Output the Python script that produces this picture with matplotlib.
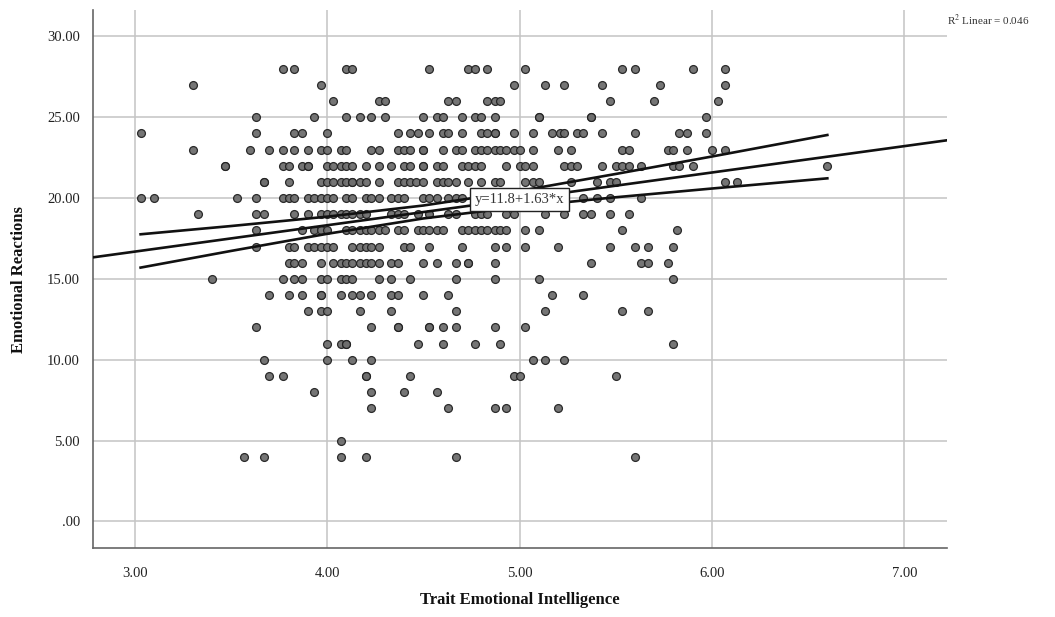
#!/usr/bin/env python3
"""Scatter of emotional reactions against trait emotional intelligence."""
import matplotlib
matplotlib.use('Agg')
import matplotlib.pyplot as plt

plt.rcParams['font.family'] = ['Liberation Serif', 'DejaVu Serif']

# Trait EI scores, one list per emotional reactions score
row_28 = [3.77, 3.83, 4.10, 4.13, 4.53, 4.73, 4.77, 4.83, 5.03, 5.53, 5.60, 5.90, 6.07]
row_27 = [3.30, 3.97, 4.97, 5.13, 5.23, 5.43, 5.73, 6.07]
row_26 = [4.03, 4.27, 4.30, 4.63, 4.67, 4.83, 4.87, 4.90, 5.47, 5.70, 6.03]
row_25 = [3.63, 3.93, 4.10, 4.17, 4.23, 4.30, 4.50, 4.57, 4.60, 4.70, 4.77, 4.80, 4.87,
          5.10, 5.10, 5.37, 5.37, 5.97]
row_24 = [3.03, 3.63, 3.83, 3.87, 4.00, 4.37, 4.43, 4.47, 4.53, 4.60, 4.63, 4.70, 4.80,
          4.83, 4.87, 4.87, 4.97, 5.07, 5.17, 5.21, 5.23, 5.30, 5.33, 5.43, 5.60, 5.83,
          5.87, 5.97]
row_23 = [3.30, 3.60, 3.70, 3.77, 3.83, 3.90, 3.97, 4.00, 4.07, 4.10, 4.23, 4.27, 4.37,
          4.40, 4.43, 4.50, 4.50, 4.60, 4.67, 4.70, 4.77, 4.80, 4.83, 4.87, 4.90, 4.93,
          4.97, 5.00, 5.07, 5.20, 5.27, 5.53, 5.57, 5.77, 5.80, 5.87, 6.00, 6.07]
row_22 = [3.47, 3.47, 3.77, 3.80, 3.87, 3.90, 3.90, 4.00, 4.03, 4.07, 4.10, 4.13, 4.20,
          4.27, 4.33, 4.40, 4.43, 4.50, 4.50, 4.57, 4.60, 4.70, 4.73, 4.77, 4.80, 4.93,
          5.00, 5.03, 5.07, 5.23, 5.27, 5.30, 5.43, 5.50, 5.53, 5.57, 5.63, 5.80, 5.83,
          5.90, 6.60]
row_21 = [3.67, 3.67, 3.80, 3.97, 4.00, 4.03, 4.07, 4.10, 4.13, 4.13, 4.17, 4.20, 4.27,
          4.37, 4.40, 4.43, 4.46, 4.50, 4.57, 4.60, 4.63, 4.67, 4.73, 4.80, 4.87, 4.90,
          5.03, 5.07, 5.10, 5.27, 5.40, 5.47, 5.50, 6.07, 6.13]
row_20 = [3.03, 3.10, 3.53, 3.63, 3.77, 3.80, 3.83, 3.90, 3.93, 3.97, 4.00, 4.03, 4.10,
          4.13, 4.20, 4.23, 4.27, 4.33, 4.37, 4.40, 4.50, 4.53, 4.57, 4.63, 4.67, 4.70,
          5.33, 5.40, 5.47, 5.63]
row_19 = [3.33, 3.63, 3.67, 3.83, 3.90, 3.97, 4.00, 4.03, 4.07, 4.10, 4.13, 4.17, 4.20,
          4.33, 4.37, 4.40, 4.47, 4.53, 4.63, 4.67, 4.77, 4.80, 4.83, 4.93, 4.97, 5.13,
          5.23, 5.33, 5.37, 5.47, 5.57]
row_18 = [3.63, 3.87, 3.93, 3.97, 4.00, 4.10, 4.13, 4.17, 4.20, 4.23, 4.27, 4.30, 4.37,
          4.40, 4.47, 4.50, 4.53, 4.57, 4.60, 4.70, 4.73, 4.77, 4.80, 4.83, 4.87, 4.90,
          4.93, 5.03, 5.10, 5.53, 5.82]
row_17 = [3.63, 3.80, 3.83, 3.90, 3.93, 3.97, 4.00, 4.03, 4.13, 4.17, 4.20, 4.23, 4.27,
          4.40, 4.43, 4.53, 4.70, 4.87, 4.93, 5.03, 5.20, 5.47, 5.60, 5.67, 5.80]
row_16 = [3.80, 3.83, 3.87, 3.97, 4.03, 4.07, 4.10, 4.13, 4.17, 4.20, 4.23, 4.27, 4.33,
          4.37, 4.50, 4.57, 4.67, 4.73, 4.73, 4.87, 5.37, 5.63, 5.67, 5.77]
row_15 = [3.40, 3.77, 3.83, 3.87, 3.97, 4.00, 4.07, 4.10, 4.13, 4.27, 4.33, 4.43, 4.67,
          4.87, 5.10, 5.80]
row_14 = [3.70, 3.80, 3.87, 3.97, 3.97, 4.07, 4.13, 4.17, 4.23, 4.33, 4.37, 4.50, 4.63,
          5.17, 5.33]
row_13 = [3.90, 3.97, 4.00, 4.17, 4.33, 4.67, 5.13, 5.53, 5.67]
row_12 = [3.63, 4.23, 4.37, 4.37, 4.53, 4.53, 4.60, 4.67, 4.87, 5.03]
row_11 = [4.00, 4.07, 4.10, 4.10, 4.47, 4.60, 4.77, 4.90, 5.80]
row_10 = [3.67, 4.00, 4.13, 4.23, 5.07, 5.13, 5.23]
row_9 = [3.70, 3.77, 4.20, 4.20, 4.43, 4.97, 5.00, 5.50]
row_8 = [3.93, 4.23, 4.40, 4.57]
row_7 = [4.23, 4.63, 4.87, 4.93, 5.20]
row_5 = [4.07]
row_4 = [3.57, 3.67, 4.07, 4.20, 4.67, 5.60]

reaction_scores = [28, 27, 26, 25, 24, 23, 22, 21, 20, 19, 18, 17, 16, 15, 14, 13, 12, 11, 10, 9, 8, 7, 5, 4]
rows = [row_28, row_27, row_26, row_25, row_24, row_23, row_22, row_21, row_20, row_19, row_18,
        row_17, row_16, row_15, row_14, row_13, row_12, row_11, row_10, row_9, row_8, row_7,
        row_5, row_4]

# Fit line and confidence band
fit_x = [2.78, 7.22]
fit_y = [16.33, 23.57]
band_x = [3.03, 3.5, 4.0, 4.5, 5.0, 5.5, 6.0, 6.6]
band_upper = [17.76, 18.27, 18.85, 19.54, 20.44, 21.49, 22.57, 23.9]
band_lower = [15.7, 16.73, 17.79, 18.74, 19.46, 20.05, 20.59, 21.22]

x_ticks = [3, 4, 5, 6, 7]
x_labels = ['3.00', '4.00', '5.00', '6.00', '7.00']
y_ticks = [0, 5, 10, 15, 20, 25, 30]
y_labels = ['.00', '5.00', '10.00', '15.00', '20.00', '25.00', '30.00']

fig = plt.figure(figsize=(10.55, 6.17), dpi=100)
ax = fig.add_axes([92.5 / 1055, 1 - 548 / 617, (947 - 92.5) / 1055, (548 - 10) / 617])

ax.grid(True, color='#c4c4c4', lw=1.1, zorder=0)
ax.set_axisbelow(True)

xs = [x for row in rows for x in row]
ys = [score for score, row in zip(reaction_scores, rows) for _ in row]
ax.scatter(xs, ys, s=32, facecolor='#6e6e6e', edgecolor='#222222', linewidth=0.9, alpha=0.95, zorder=3)

ax.plot(fit_x, fit_y, color='#111111', lw=1.9, zorder=4)
ax.plot(band_x, band_upper, color='#111111', lw=1.9, zorder=4)
ax.plot(band_x, band_lower, color='#111111', lw=1.9, zorder=4)

ax.text(5.0, 19.93, 'y=11.8+1.63*x', ha='center', va='center', fontsize=10.5, color='#333333', zorder=5,
        bbox=dict(boxstyle='square,pad=0.35', facecolor='white', edgecolor='#222222', lw=1))

ax.set_xlim(2.78, 7.222)
ax.set_ylim(-1.64, 31.63)
ax.set_xticks(x_ticks, x_labels, fontsize=10.5, color='#222222')
ax.set_yticks(y_ticks, y_labels, fontsize=10.5, color='#222222')
ax.tick_params(length=0, pad=9)
ax.tick_params(axis='x', pad=14)

for side in ['top', 'right']:
    ax.spines[side].set_visible(False)
for side in ['left', 'bottom']:
    ax.spines[side].set_color('#666666')
    ax.spines[side].set_linewidth(1.2)

fig.text(520 / 1055, 1 - 600 / 617, 'Trait Emotional Intelligence', ha='center', va='center',
         fontsize=12, fontweight='bold', color='#111111')
fig.text(19 / 1055, 1 - 280 / 617, 'Emotional Reactions', rotation=90, ha='center', va='center',
         fontsize=12, fontweight='bold', color='#111111')
fig.text(947 / 1055, 1 - 20 / 617, r'R$^{2}$ Linear = 0.046', ha='left', va='center',
         fontsize=8, color='#333333', math_fontfamily='stix')

fig.savefig('out.png', dpi=100)
